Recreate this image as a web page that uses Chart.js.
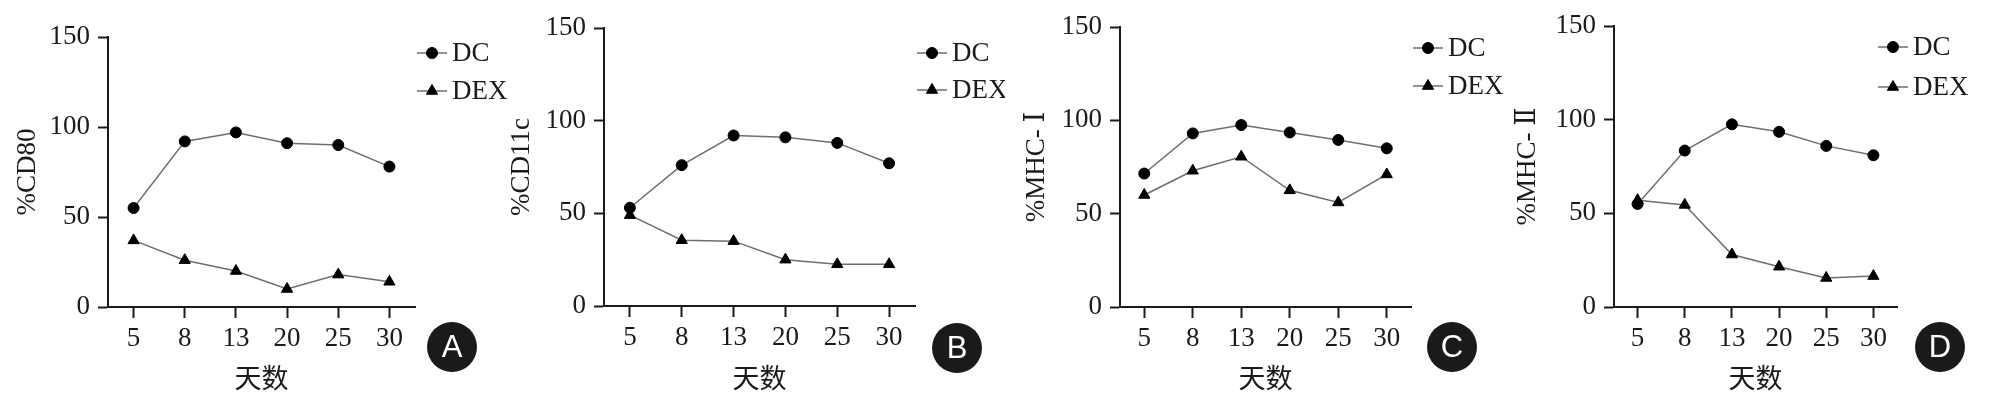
<!DOCTYPE html>
<html>
<head>
<meta charset="utf-8">
<script src="https://cdn.jsdelivr.net/npm/chart.js@4.4.1/dist/chart.umd.min.js"></script>
<style>
  html, body { margin: 0; padding: 0; background: #fff; }
  body { width: 1992px; height: 396px; position: relative; overflow: hidden; }
  canvas { position: absolute; top: 0; }
</style>
</head>
<body>
<canvas id="cA" width="510" height="396" style="left:0px"></canvas>
<canvas id="cB" width="505" height="396" style="left:500px"></canvas>
<canvas id="cC" width="500" height="396" style="left:1005px"></canvas>
<canvas id="cD" width="487" height="396" style="left:1505px"></canvas>
<script>
// data
const days = ['5', '8', '13', '20', '25', '30'];
const seriesNames = ['DC', 'DEX'];

const cd80DC = [55, 92, 97, 91, 90, 78];
const cd80DEX = [37, 26, 20, 10, 18, 14];

const cd11cDC = [53, 76, 92, 91, 88, 77];
const cd11cDEX = [49, 35.5, 35, 25, 22.5, 22.5];

const mhc1DC = [71.5, 93, 97.5, 93.5, 89.5, 85];
const mhc1DEX = [60, 73, 80.5, 62.5, 56, 71];

const mhc2DC = [55, 83.5, 97.5, 93.5, 86, 81];
const mhc2DEX = [57, 54.5, 28, 21.5, 15.5, 16.5];

const yMin = 0, yMax = 150, yStep = 50;
const xTitle = '天数';

// styles
const ink = '#1a1a1a';
const lineGray = '#6e6e6e';
const serif = '"Liberation Serif", "Times New Roman", Tinos, Times, "DejaVu Serif", serif';

// panel layout (canvas coords)
const panels = [
  { id: 'cA', yTitle: '%CD80',    dc: cd80DC,  dex: cd80DEX,  letter: 'A',
    left: 108, right: 415, top: 37, bottom: 307, titlePad: 12,
    legendX: 417, legendY: [53, 91], badge: [452, 347] },
  { id: 'cB', yTitle: '%CD11c',   dc: cd11cDC, dex: cd11cDEX, letter: 'B',
    left: 104, right: 415, top: 28, bottom: 306, titlePad: 6,
    legendX: 417, legendY: [53, 90], badge: [457, 348] },
  { id: 'cC', yTitle: '%MHC- Ⅰ', dc: mhc1DC,  dex: mhc1DEX,  letter: 'C',
    left: 115, right: 406, top: 27, bottom: 307, titlePad: 16,
    legendX: 408, legendY: [48, 86], badge: [447, 347] },
  { id: 'cD', yTitle: '%MHC- Ⅱ', dc: mhc2DC,  dex: mhc2DEX,  letter: 'D',
    left: 109, right: 392, top: 26, bottom: 307, titlePad: 7,
    legendX: 373, legendY: [47, 87], badge: [435, 347] },
];

// legend with line + marker, and the round panel letter
const extras = {
  id: 'extras',
  afterDraw(chart, args, opts) {
    const ctx = chart.ctx;
    ctx.save();
    chart.data.datasets.forEach((ds, i) => {
      const x = opts.legendX, y = opts.legendY[i];
      ctx.strokeStyle = lineGray;
      ctx.lineWidth = 1.5;
      ctx.beginPath();
      ctx.moveTo(x, y);
      ctx.lineTo(x + 30, y);
      ctx.stroke();
      ctx.fillStyle = '#000';
      ctx.strokeStyle = '#000';
      ctx.lineWidth = 1;
      Chart.helpers.drawPoint(ctx, { pointStyle: ds.pointStyle, radius: ds.pointRadius, borderWidth: 1, rotation: 0 }, x + 15, y);
      ctx.fillStyle = ink;
      ctx.font = '27px ' + serif;
      ctx.textAlign = 'left';
      ctx.textBaseline = 'middle';
      ctx.fillText(ds.label, x + 35, y + 1);
    });
    const [bx, by] = opts.badge;
    ctx.fillStyle = ink;
    ctx.beginPath();
    ctx.arc(bx, by, 25, 0, Math.PI * 2);
    ctx.fill();
    ctx.fillStyle = '#fff';
    ctx.font = '31px "Liberation Sans", Arial, sans-serif';
    ctx.textAlign = 'center';
    ctx.textBaseline = 'middle';
    ctx.fillText(opts.letter, bx, by + 1);
    ctx.restore();
  }
};

panels.forEach(p => {
  const canvas = document.getElementById(p.id);
  const H = canvas.height;
  new Chart(canvas, {
    type: 'line',
    data: {
      labels: days,
      datasets: [
        {
          label: seriesNames[0],
          data: p.dc,
          borderColor: lineGray,
          borderWidth: 1.5,
          pointStyle: 'circle',
          pointRadius: 5.5,
          pointBackgroundColor: '#000',
          pointBorderColor: '#000',
          pointBorderWidth: 1,
          tension: 0,
        },
        {
          label: seriesNames[1],
          data: p.dex,
          borderColor: lineGray,
          borderWidth: 1.5,
          pointStyle: 'triangle',
          pointRadius: 6.5,
          pointBackgroundColor: '#000',
          pointBorderColor: '#000',
          pointBorderWidth: 1,
          tension: 0,
        }
      ]
    },
    options: {
      responsive: false,
      animation: false,
      events: [],
      layout: { padding: { left: 0, top: p.top, right: canvas.width - p.right, bottom: 0 } },
      plugins: {
        legend: { display: false },
        tooltip: { enabled: false },
        extras: { legendX: p.legendX, legendY: p.legendY, badge: p.badge, letter: p.letter }
      },
      scales: {
        x: {
          type: 'category',
          offset: true,
          afterFit: s => { s.height = H - p.bottom; },
          grid: { display: true, offset: false, drawOnChartArea: false, drawTicks: true,
                  tickLength: 11, tickWidth: 2, tickColor: ink },
          border: { display: true, color: ink, width: 2 },
          ticks: { color: ink, font: { family: serif, size: 27 }, padding: 5, maxRotation: 0 },
          title: { display: true, text: xTitle, color: ink,
                   font: { family: '"Noto Sans CJK SC"', size: 27 }, padding: { top: 0, bottom: 2 } }
        },
        y: {
          min: yMin,
          max: yMax,
          afterFit: s => { s.width = p.left; },
          grid: { display: true, drawOnChartArea: false, drawTicks: true,
                  tickLength: 10, tickWidth: 2, tickColor: ink },
          border: { display: true, color: ink, width: 2 },
          ticks: { stepSize: yStep, color: ink, font: { family: serif, size: 27 }, padding: 8 },
          title: { display: true, text: p.yTitle, color: ink,
                   font: { family: serif, size: 27 }, padding: { top: p.titlePad, bottom: 0 } }
        }
      }
    },
    plugins: [extras]
  });
});
</script>
</body>
</html>
